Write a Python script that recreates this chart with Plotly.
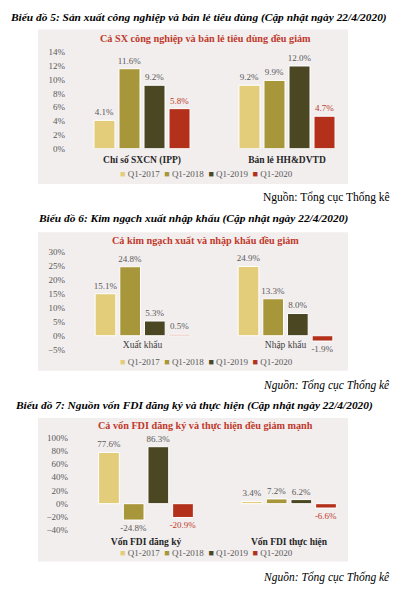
import plotly.graph_objects as go

W, H = 406, 599

# ---------------- data ----------------
series_names = ["Q1-2017", "Q1-2018", "Q1-2019", "Q1-2020"]
series_colors = ["#E3CC7A", "#A8963A", "#4B4722", "#B3301A"]
label_colors = ["#595959", "#595959", "#595959", "#C0392B"]

cats1 = ["Chỉ số SXCN (IPP)", "Bán lẻ HH&DVTD"]
ipp_vals = [4.1, 11.6, 9.2, 5.8]
retail_vals = [9.2, 9.9, 12.0, 4.7]

cats2 = ["Xuất khẩu", "Nhập khẩu"]
export_vals = [15.1, 24.8, 5.3, 0.5]
import_vals = [24.9, 13.3, 8.0, -1.9]

cats3 = ["Vốn FDI đăng ký", "Vốn FDI thực hiện"]
fdi_reg_vals = [77.6, -24.8, 86.3, -20.9]
fdi_impl_vals = [3.4, 7.2, 6.2, -6.6]

titles = [
    "Biểu đồ 5: Sản xuất công nghiệp và bán lẻ tiêu dùng (Cập nhật ngày 22/4/2020)",
    "Biểu đồ 6: Kim ngạch xuất nhập khẩu (Cập nhật ngày 22/4/2020)",
    "Biểu đồ 7: Nguồn vốn FDI đăng ký và thực hiện (Cập nhật ngày 22/4/2020)",
]
inner_titles = [
    "Cả SX công nghiệp và bán lẻ tiêu dùng đều giảm",
    "Cả kim ngạch xuất và nhập khẩu đều giảm",
    "Cả vốn FDI đăng ký và thực hiện đều giảm mạnh",
]
source_text = "Nguồn: Tổng cục Thống kê"

SERIF = "Liberation Serif"
GRAY = "#595959"
RED = "#C0392B"


def px(x):
    return x / W


def py(y):
    return 1 - y / H


fig = go.Figure()

charts = [
    dict(cats=cats1, vals=(ipp_vals, retail_vals), rng=(0, 14), dtick=2,
         ytop=48, ybot=146, xl=66, xr=346, c0=142, step=145,
         catbold=True, standoff=4, axis=""),
    dict(cats=cats2, vals=(export_vals, import_vals), rng=(-5, 30), dtick=5,
         ytop=251.5, ybot=350.5, xl=66, xr=346, c0=142.5, step=143,
         catbold=False, standoff=-12, axis="2"),
    dict(cats=cats3, vals=(fdi_reg_vals, fdi_impl_vals), rng=(-40, 100), dtick=20,
         ytop=440, ybot=534, xl=69, xr=346, c0=146, step=143,
         catbold=True, standoff=4, axis="3"),
]

for ci, ch in enumerate(charts):
    a = ch["axis"]
    for si, name in enumerate(series_names):
        vals = [ch["vals"][0][si], ch["vals"][1][si]]
        fig.add_trace(go.Bar(
            x=list(range(len(ch["cats"]))), y=vals, name=name,
            marker=dict(color=series_colors[si], line=dict(color="white", width=1)),
            text=[f"{v:.1f}%" for v in vals], textposition="outside",
            textfont=dict(family=SERIF, size=9, color=label_colors[si] if ci != 1 else GRAY),
            cliponaxis=False, constraintext="none",
            xaxis="x" + a, yaxis="y" + a, showlegend=False,
        ))
    r0 = -(ch["c0"] - ch["xl"]) / ch["step"]
    r1 = (ch["xr"] - ch["c0"]) / ch["step"]
    xax = dict(domain=[px(ch["xl"]), px(ch["xr"])], range=[r0, r1],
               tickmode="array", tickvals=[0, 1],
               ticktext=[f"<b>{c}</b>" if ch["catbold"] else c for c in ch["cats"]],
               tickfont=dict(family=SERIF, size=9.5, color="#262626" if ch["catbold"] else "#404040"),
               showgrid=False, zeroline=False, showline=False, ticks="",
               ticklabelstandoff=ch["standoff"],
               anchor="y" + a, fixedrange=True)
    yax = dict(domain=[py(ch["ybot"]), py(ch["ytop"])], range=list(ch["rng"]),
               dtick=ch["dtick"], tick0=0, ticksuffix="%",
               tickfont=dict(family=SERIF, size=9, color=GRAY),
               showgrid=False, zeroline=False, showline=False,
               anchor="x" + a, fixedrange=True)
    fig.update_layout(**{"xaxis" + a: xax, "yaxis" + a: yax})

# panel backgrounds
panels = [(38, 25, 348, 182), (38, 231, 348, 372), (38, 420, 348, 566)]
for (x0, y0, x1, y1) in panels:
    fig.add_shape(type="rect", xref="paper", yref="paper",
                  x0=px(x0), x1=px(x1), y0=py(y1), y1=py(y0),
                  fillcolor="#F2EEEE", line=dict(width=0), layer="below")

# outer titles
title_pos = [(8, 13, "left"), (193, 217, "center"), (194, 407, "center")]
for t, (x, y, al) in zip(titles, title_pos):
    fig.add_annotation(text=f"<b><i>{t}</i></b>", xref="paper", yref="paper",
                       x=px(x), y=py(y), xanchor=al, yanchor="middle", showarrow=False,
                       font=dict(family=SERIF, size=11.4, color="black"))

# inner titles
for t, y in zip(inner_titles, [34, 239, 428]):
    fig.add_annotation(text=f"<b>{t}</b>", xref="paper", yref="paper",
                       x=px(205), y=py(y), xanchor="center", yanchor="middle", showarrow=False,
                       font=dict(family=SERIF, size=10.2, color=RED))

# legends (one per chart)
legend_text = "  ".join(
    f"<span style='color:{c}'>■</span> {n}" for n, c in zip(series_names, series_colors))
for y in [172, 363, 557]:
    fig.add_annotation(text=legend_text, xref="paper", yref="paper",
                       x=px(206), y=py(y), xanchor="center", yanchor="middle", showarrow=False,
                       font=dict(family=SERIF, size=9, color=GRAY))

# sources
for y, ital in [(196, False), (387, True), (582, True)]:
    txt = f"<i>{source_text}</i>" if ital else source_text
    fig.add_annotation(text=txt, xref="paper", yref="paper",
                       x=px(392), y=py(y), xanchor="right", yanchor="middle", showarrow=False,
                       font=dict(family=SERIF, size=11.5, color="black"))

fig.update_layout(
    width=W, height=H, margin=dict(l=0, r=0, t=0, b=0),
    paper_bgcolor="white", plot_bgcolor="rgba(0,0,0,0)",
    barmode="group", bargap=0.31, bargroupgap=0.16,
    showlegend=False,
)

fig.write_html("out.html", config={"displayModeBar": False},
               post_script="document.body.style.margin='0';")
